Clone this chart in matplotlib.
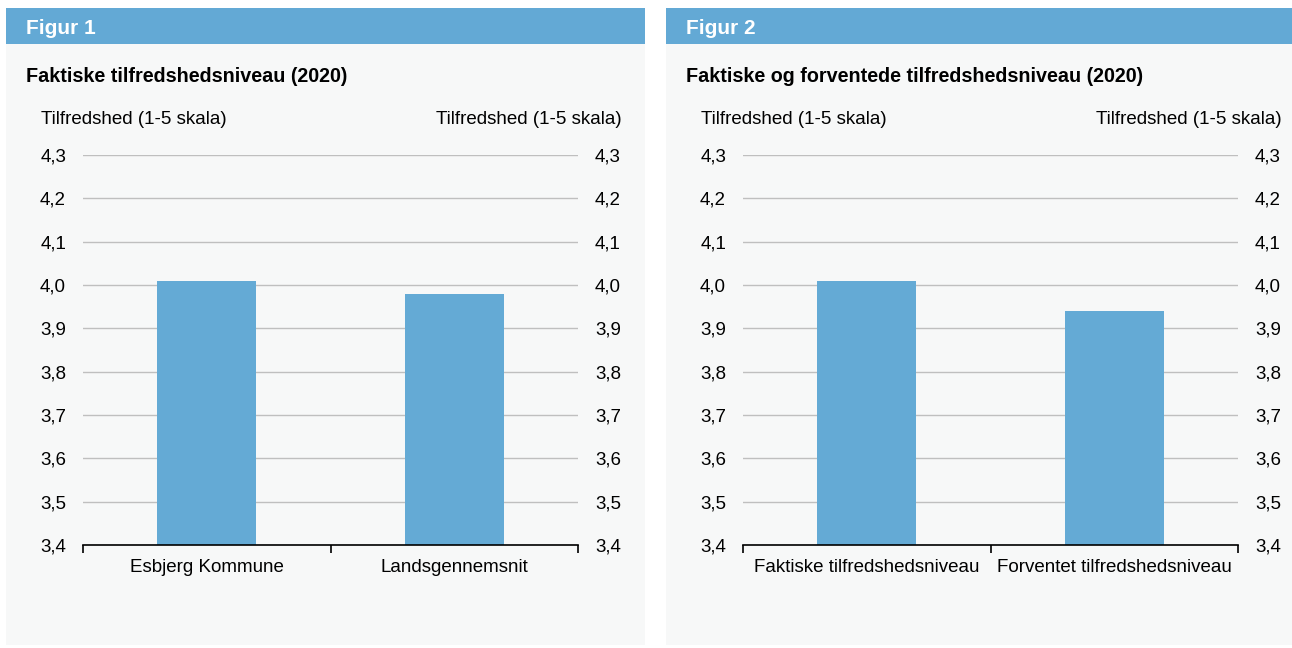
import matplotlib
matplotlib.use("Agg")
import matplotlib.pyplot as plt
from matplotlib.patches import Rectangle
from matplotlib.ticker import FixedLocator, FuncFormatter

plt.rcParams['font.family'] = ['Liberation Sans', 'DejaVu Sans']

fig1_categories = ["Esbjerg Kommune", "Landsgennemsnit"]
fig1_values = [4.01, 3.98]
fig2_categories = ["Faktiske tilfredshedsniveau", "Forventet tilfredshedsniveau"]
fig2_values = [4.01, 3.94]
yticks = [3.4, 3.5, 3.6, 3.7, 3.8, 3.9, 4.0, 4.1, 4.2, 4.3]
headers = ["Figur 1", "Figur 2"]
titles = ["Faktiske tilfredshedsniveau (2020)", "Faktiske og forventede tilfredshedsniveau (2020)"]
ylabel = "Tilfredshed (1-5 skala)"

W, H = 1292, 648
BG = "#f7f8f8"
BLUE = "#64aad5"
HEAD = "#63a9d5"
FS = 13.5

fig = plt.figure(figsize=(W / 100, H / 100), dpi=100)
fig.patch.set_facecolor("white")

def fx(x): return x / W
def fy(y): return 1 - y / H

panels = [
    dict(x0=6, x1=645, ax_l=83, ax_r=578, cats=fig1_categories, vals=fig1_values),
    dict(x0=666, x1=1292, ax_l=743, ax_r=1238, cats=fig2_categories, vals=fig2_values),
]

fmt = FuncFormatter(lambda v, p: f"{v:.1f}".replace(".", ","))

for i, p in enumerate(panels):
    fig.patches.append(Rectangle((fx(p['x0']), fy(645)), fx(p['x1'] - p['x0']), (645 - 8) / H,
                                 transform=fig.transFigure, facecolor=BG, edgecolor="none", zorder=-2))
    fig.patches.append(Rectangle((fx(p['x0']), fy(44)), fx(p['x1'] - p['x0']), 36 / H,
                                 transform=fig.transFigure, facecolor=HEAD, edgecolor="none", zorder=-1))
    fig.text(fx(p['x0'] + 20), fy(28), headers[i], color="white", fontsize=15, fontweight="bold",
             va="center", ha="left")
    fig.text(fx(p['x0'] + 20), fy(77), titles[i], color="black", fontsize=14.2, fontweight="bold",
             va="center", ha="left")
    fig.text(fx(p['ax_l'] - 42), fy(119.5), ylabel, fontsize=FS, va="center", ha="left")
    fig.text(fx(p['ax_r'] + 44), fy(119.5), ylabel, fontsize=FS, va="center", ha="right")

    ax = fig.add_axes([fx(p['ax_l']), fy(545), fx(p['ax_r'] - p['ax_l']), (545 - 155) / H])
    ax.set_zorder(2)
    ax.set_facecolor("none")
    x = list(range(len(p['cats'])))
    ax.bar(x, p['vals'], width=0.4, color=BLUE, zorder=3)
    ax.set_xlim(-0.5, len(x) - 0.5)
    ax.set_ylim(3.4, 4.3)
    ax.yaxis.set_major_locator(FixedLocator(yticks))
    ax.yaxis.set_major_formatter(fmt)
    ax.grid(axis="y", color="#bfbfbf", linewidth=1, zorder=0)
    for s in ["top", "left", "right"]:
        ax.spines[s].set_visible(False)
    ax.spines["bottom"].set_color("black")
    ax.spines["bottom"].set_linewidth(1.2)
    ax.spines["bottom"].set_zorder(4)
    ax.tick_params(axis="y", length=0, labelsize=FS, pad=12.2, labelright=True)
    ax.set_xticks(x)
    ax.set_xticklabels(p['cats'], fontsize=FS)
    ax.tick_params(axis="x", which="major", length=0, pad=10)
    ax.set_xticks([-0.5 + k for k in range(len(x) + 1)], minor=True)
    ax.tick_params(axis="x", which="minor", length=6, width=1.2, color="black", direction="out")

fig.savefig("out.png", dpi=100, facecolor="white")
